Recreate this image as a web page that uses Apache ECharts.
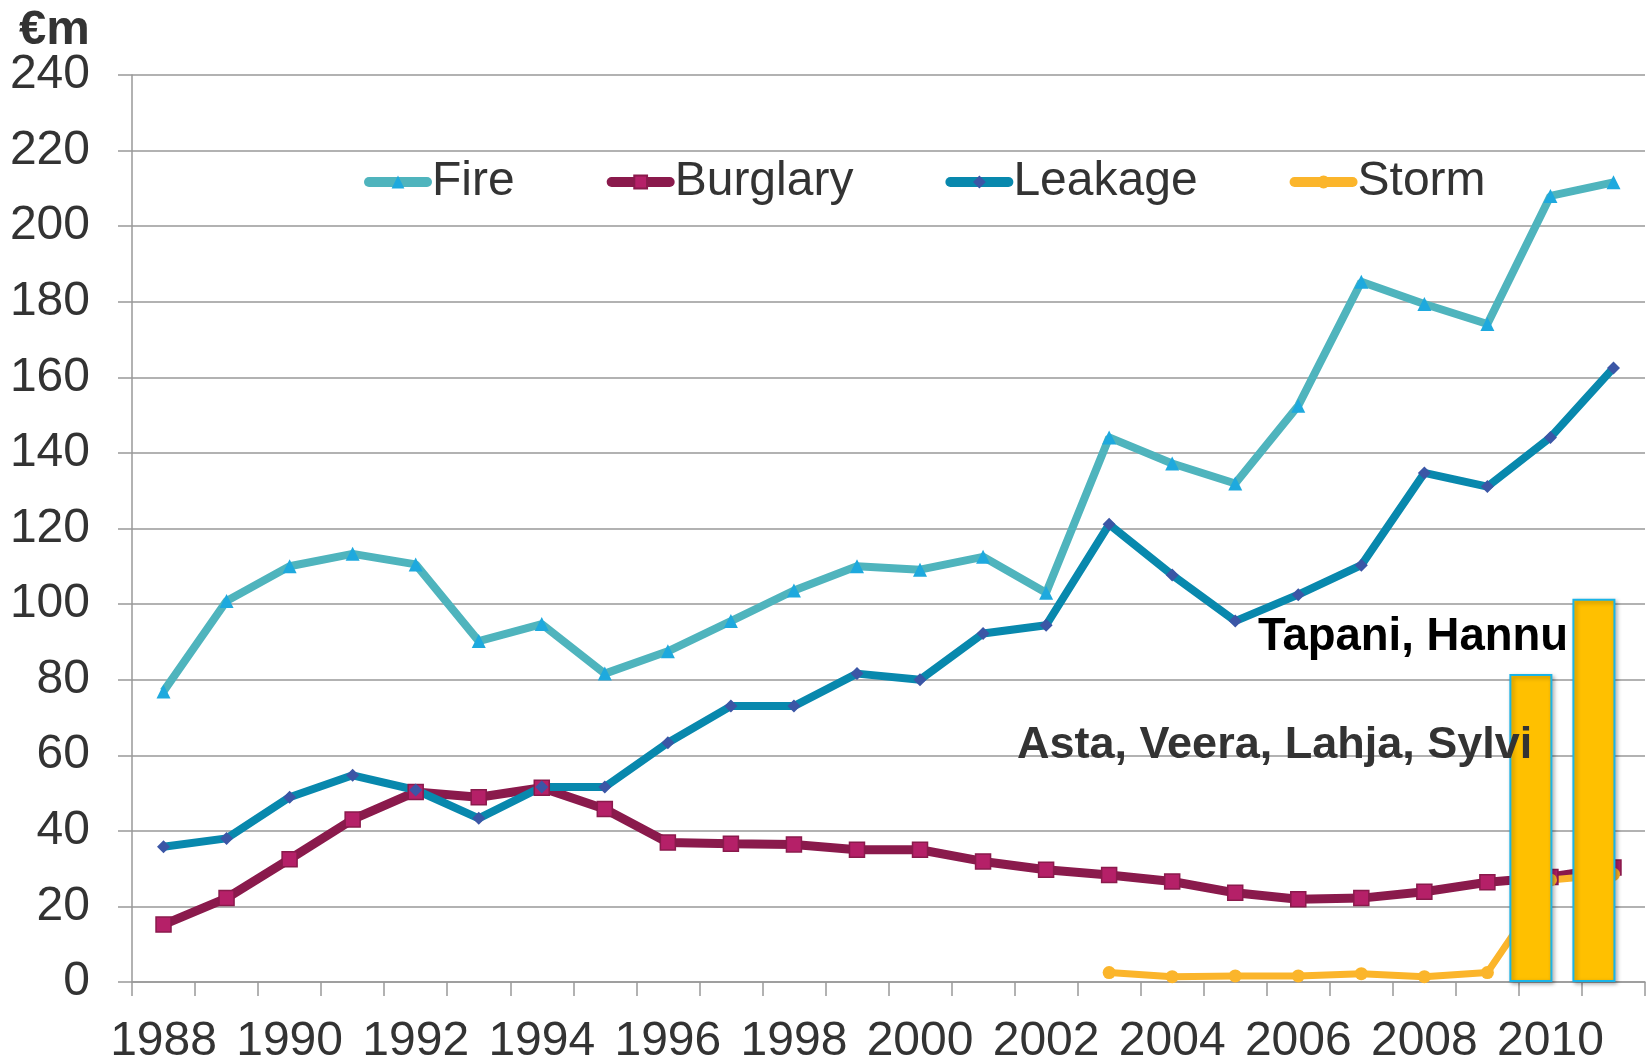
<!DOCTYPE html>
<html lang="en">
<head>
  <meta charset="UTF-8">
  <title>Claims</title>
  <script src="https://cdn.jsdelivr.net/npm/echarts@6/dist/echarts.min.js"></script>
  <style>
    html, body { margin: 0; padding: 0; background: #fff; }
  </style>
</head>
<body>
  <div id="main" style="width: 1647px;height:1060px;"></div>
  <script>
    var years = ['1988', '1989', '1990', '1991', '1992', '1993', '1994', '1995', '1996', '1997', '1998', '1999',
      '2000', '2001', '2002', '2003', '2004', '2005', '2006', '2007', '2008', '2009', '2010', '2011'];
    var fire = [76.9, 100.8, 110, 113.3, 110.5, 90.2, 94.7, 81.6, 87.5, 95.5, 103.6, 110,
      109.1, 112.5, 103, 144.1, 137.2, 131.9, 152.5, 185.3, 179.4, 174.1, 208, 211.6];
    var burglary = [15.2, 22.2, 32.5, 43, 50.3, 48.9, 51.4, 45.8, 36.9, 36.6, 36.4, 35,
      35, 31.9, 29.7, 28.3, 26.6, 23.6, 21.9, 22.2, 23.9, 26.4, 27.8, 30.3];
    var leakage = [35.8, 38, 48.9, 54.7, 50.8, 43.3, 51.6, 51.6, 63.3, 73, 73, 81.6,
      80, 92.2, 94.4, 121.1, 107.7, 95.5, 102.5, 110.3, 134.7, 131.1, 144.1, 162.5];
    var storm = [null, null, null, null, null, null, null, null, null, null, null, null,
      null, null, null, 2.5, 1.4, 1.6, 1.6, 2.2, 1.4, 2.5, 27, 28.5];
    // storm events (Asta, Veera, Lahja, Sylvi 2010 / Tapani, Hannu 2011)
    var stormEvents = [null, null, null, null, null, null, null, null, null, null, null, null,
      null, null, null, null, null, null, null, null, null, null, 81.5, 101.4];

    var font = "'Liberation Sans', Arial, sans-serif";
    var gridColor = '#999';

    var myChart = echarts.init(document.getElementById('main'));

    const option = {
      animation: false,
      grid: { left: 132, right: 2, top: 75, bottom: 78, outerBoundsMode: 'none', containLabel: false },
      legend: {
        data: ['Fire', 'Burglary', 'Leakage', 'Storm'],
        left: 364,
        top: 158,
        padding: 0,
        itemWidth: 58,
        itemHeight: 16,
        itemGap: 92,
        lineStyle: { width: 10, cap: 'round' },
        textStyle: { fontSize: 48, color: '#333', fontFamily: font }
      },
      xAxis: {
        type: 'category',
        data: years,
        boundaryGap: true,
        axisLine: { lineStyle: { color: gridColor, width: 1.5 } },
        axisTick: { show: true, interval: 0, length: 14, lineStyle: { color: gridColor, width: 1.5 } },
        axisLabel: { interval: 1, fontSize: 48, color: '#333', fontFamily: font, margin: 36 }
      },
      yAxis: {
        type: 'value',
        min: 0,
        max: 240,
        interval: 20,
        axisLine: { show: true, lineStyle: { color: gridColor, width: 1.5 } },
        axisTick: { show: true, length: 14, lineStyle: { color: gridColor, width: 1.5 } },
        axisLabel: { fontSize: 48, color: '#333', fontFamily: font, margin: 42 },
        splitLine: { lineStyle: { color: gridColor, width: 1.5 } }
      },
      graphic: [
        {
          type: 'text', left: 19, top: 6, z: 100,
          style: { text: '€m', fontSize: 49, fontWeight: 'bold', fill: '#333', fontFamily: font }
        },
        {
          type: 'text', left: 1258, top: 614, z: 100,
          style: { text: 'Tapani, Hannu', fontSize: 45.5, fontWeight: 'bold', fill: '#000', fontFamily: font }
        },
        {
          type: 'text', left: 1017, top: 723, z: 100,
          style: { text: 'Asta, Veera, Lahja, Sylvi', fontSize: 45, fontWeight: 'bold', fill: '#333', fontFamily: font }
        }
      ],
      series: [
        {
          name: 'Fire', type: 'line', data: fire,
          lineStyle: { color: '#4fb4bd', width: 8 },
          itemStyle: { color: '#1ea9de' },
          symbol: 'triangle', symbolSize: 14, showAllSymbol: true
        },
        {
          name: 'Burglary', type: 'line', data: burglary,
          lineStyle: { color: '#8a1a4c', width: 9 },
          itemStyle: { color: '#b52068', borderColor: '#8a1a4c', borderWidth: 1.5 },
          symbol: 'rect', symbolSize: 15, showAllSymbol: true
        },
        {
          name: 'Leakage', type: 'line', data: leakage,
          lineStyle: { color: '#0888ad', width: 8 },
          itemStyle: { color: '#3b56a6' },
          symbol: 'diamond', symbolSize: 13, showAllSymbol: true
        },
        {
          name: 'Storm', type: 'line', data: storm,
          lineStyle: { color: '#fbb52b', width: 7 },
          itemStyle: { color: '#fbb52b' },
          symbol: 'circle', symbolSize: 13, showAllSymbol: true
        },
        {
          name: 'Storm events', type: 'bar', data: stormEvents, z: 5,
          barWidth: 43, barGap: '-9%',
          itemStyle: {
            color: '#ffc000', borderColor: '#1ab4e8', borderWidth: 2,
            shadowBlur: 4, shadowColor: 'rgba(0,0,0,0.3)', shadowOffsetX: 2, shadowOffsetY: 2
          }
        },
        {
          // empty slot so the event bars sit left of the category centre
          name: 'pad', type: 'bar', data: [], barWidth: 43
        }
      ]
    };

    myChart.setOption(option);
  </script>
</body>
</html>
